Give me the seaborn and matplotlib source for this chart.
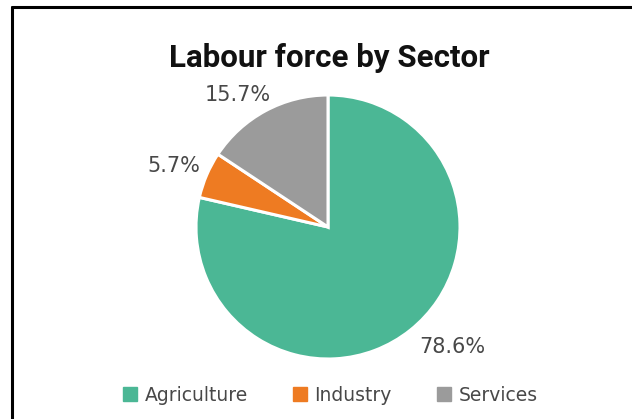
import matplotlib
matplotlib.use("Agg")
import matplotlib.pyplot as plt
from matplotlib.lines import Line2D
import numpy as np
import seaborn as sns

sectors = ["Agriculture", "Industry", "Services"]
shares = [78.6, 5.7, 15.7]
colors = ["#4bb795", "#ee7b22", "#9b9b9b"]
title = "Labour force by Sector"

sns.set_theme(style="white")
plt.rcParams["font.family"] = ["DejaVu Sans"]

W, H = 632, 419
fig = plt.figure(figsize=(W / 100, H / 100), dpi=100)

# pie axes: center and radius in pixels
cx, cy, r = 328, 227, 132
ax = fig.add_axes([(cx - r) / W, 1 - (cy + r) / H, 2 * r / W, 2 * r / H])

wedges, _ = ax.pie(
    shares,
    colors=colors,
    startangle=90,
    counterclock=False,
    radius=1,
    wedgeprops=dict(edgecolor="white", linewidth=2.2),
)
ax.set_xlim(-1, 1)
ax.set_ylim(-1, 1)
ax.set_aspect("equal")
ax.axis("off")

# percentage labels placed outside each wedge
label_dist = [1.31, 1.255, 1.21]
angle_shift = [7.5, 1.6, 6.0]
for w, val, d, s in zip(wedges, shares, label_dist, angle_shift):
    ang = np.deg2rad((w.theta1 + w.theta2) / 2 + s)
    ax.text(d * np.cos(ang), d * np.sin(ang), f"{val}%",
            ha="center", va="center", fontsize=15, color="#484848")

fig.text(0.521, 1 - 58 / H, title, ha="center", va="center",
         fontsize=22.5, fontweight="bold", color="#111111",
         family=["Roboto", "DejaVu Sans"])

handles = [Line2D([0], [0], marker="s", linestyle="none", markersize=10,
                  markerfacecolor=c, markeredgecolor=c) for c in colors]
fig.legend(handles, sectors, loc="center", bbox_to_anchor=(0.521, 1 - 395 / H),
           ncol=3, frameon=False, handletextpad=0.25, columnspacing=2.3,
           handlelength=1.0, prop=dict(size=13.5), labelcolor="#484848")

# frame lines along top and left
fig.add_artist(Line2D([11.5 / W, 1], [1 - 7 / H, 1 - 7 / H], color="black", linewidth=2.2,
                      transform=fig.transFigure))
fig.add_artist(Line2D([11.5 / W, 11.5 / W], [0, 1 - 7 / H], color="black", linewidth=2.2,
                      transform=fig.transFigure))

fig.savefig("out.png", dpi=100)
